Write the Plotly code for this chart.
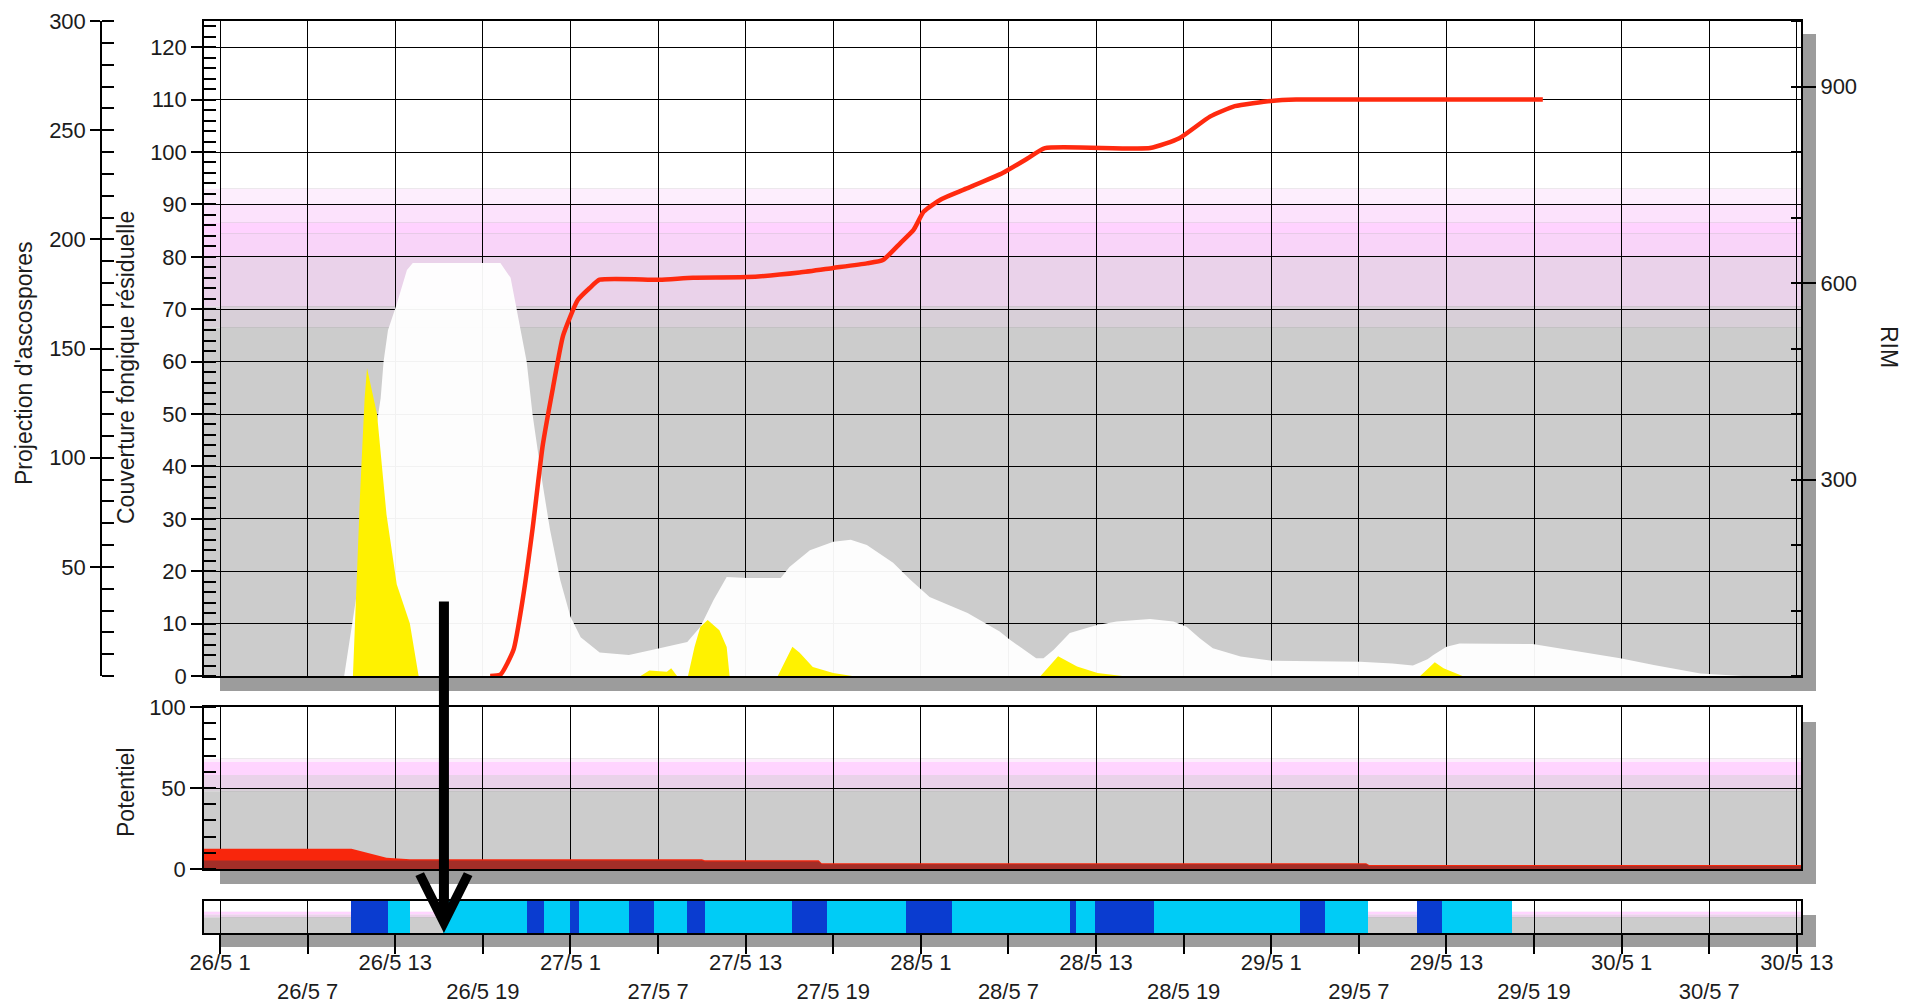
import pandas as pd
import plotly.graph_objects as go

# ---------------- DATA ----------------
TICK_TIMES = ["2021-05-26 01:00", "2021-05-26 07:00", "2021-05-26 13:00", "2021-05-26 19:00",
              "2021-05-27 01:00", "2021-05-27 07:00", "2021-05-27 13:00", "2021-05-27 19:00",
              "2021-05-28 01:00", "2021-05-28 07:00", "2021-05-28 13:00", "2021-05-28 19:00",
              "2021-05-29 01:00", "2021-05-29 07:00", "2021-05-29 13:00", "2021-05-29 19:00",
              "2021-05-30 01:00", "2021-05-30 07:00", "2021-05-30 13:00"]
TICK_LABELS = ["26/5 1", "26/5 7", "26/5 13", "26/5 19",
               "27/5 1", "27/5 7", "27/5 13", "27/5 19",
               "28/5 1", "28/5 7", "28/5 13", "28/5 19",
               "29/5 1", "29/5 7", "29/5 13", "29/5 19",
               "30/5 1", "30/5 7", "30/5 13"]
X_RANGE = ["2021-05-25 23:54", "2021-05-30 13:17"]

# Couverture fongique résiduelle (white area, left axis 0-125)
COUV_TIMES = ["2021-05-26 09:30", "2021-05-26 10:36", "2021-05-26 11:24", "2021-05-26 12:00",
              "2021-05-26 12:12", "2021-05-26 12:30", "2021-05-26 13:06", "2021-05-26 13:48",
              "2021-05-26 14:12", "2021-05-26 20:12", "2021-05-26 20:54", "2021-05-26 21:18",
              "2021-05-26 22:00", "2021-05-26 22:24", "2021-05-26 23:03", "2021-05-26 23:36",
              "2021-05-27 00:18", "2021-05-27 01:00", "2021-05-27 01:42", "2021-05-27 03:00",
              "2021-05-27 05:00", "2021-05-27 07:06", "2021-05-27 09:00", "2021-05-27 09:54",
              "2021-05-27 10:48", "2021-05-27 11:42", "2021-05-27 13:06", "2021-05-27 15:24",
              "2021-05-27 16:00", "2021-05-27 17:24", "2021-05-27 19:00", "2021-05-27 20:12",
              "2021-05-27 21:18", "2021-05-27 23:06", "2021-05-28 00:18", "2021-05-28 01:36",
              "2021-05-28 04:12", "2021-05-28 06:24", "2021-05-28 07:06", "2021-05-28 08:54",
              "2021-05-28 09:24", "2021-05-28 10:06", "2021-05-28 11:12", "2021-05-28 13:00",
              "2021-05-28 14:24", "2021-05-28 16:42", "2021-05-28 18:18", "2021-05-28 19:12",
              "2021-05-28 20:06", "2021-05-28 21:00", "2021-05-28 22:54", "2021-05-29 01:06",
              "2021-05-29 07:06", "2021-05-29 09:18", "2021-05-29 10:42", "2021-05-29 11:42",
              "2021-05-29 12:06", "2021-05-29 13:00", "2021-05-29 13:54", "2021-05-29 18:54",
              "2021-05-29 21:18", "2021-05-30 00:54", "2021-05-30 03:12", "2021-05-30 06:24",
              "2021-05-30 09:18"]
COUV_VALUES = [0, 20, 42, 53,
               60, 66, 71, 77.5,
               78.8, 78.8, 76, 70.4,
               60, 50, 37.4, 27.9,
               18.3, 11.3, 7.4, 4.5,
               4.0, 5.3, 6.5, 9.4,
               14.5, 18.9, 18.7, 18.7,
               20.8, 24, 25.6, 26,
               25, 21.6, 18.3, 15.1,
               12, 8.5, 6.9, 3.4,
               3.4, 5.0, 8.2, 9.7,
               10.4, 10.9, 10.4, 9.4,
               7.2, 5.3, 3.7, 2.9,
               2.7, 2.4, 2.0, 3.2,
               4.0, 5.6, 6.2, 6.1,
               5.0, 3.4, 2.1, 0.5,
               0]

# RIM (red line, right axis 0-1000)
RIM_TIMES = ["2021-05-26 19:30", "2021-05-26 20:12", "2021-05-26 21:06", "2021-05-26 21:45",
             "2021-05-26 22:24", "2021-05-26 23:06", "2021-05-26 23:48", "2021-05-27 00:30",
             "2021-05-27 01:30", "2021-05-27 02:18", "2021-05-27 03:00", "2021-05-27 07:06",
             "2021-05-27 09:24", "2021-05-27 13:06", "2021-05-27 16:42", "2021-05-27 19:00",
             "2021-05-27 21:18", "2021-05-27 22:24", "2021-05-27 23:36", "2021-05-28 00:30",
             "2021-05-28 01:12", "2021-05-28 02:24", "2021-05-28 04:06", "2021-05-28 06:36",
             "2021-05-28 08:18", "2021-05-28 09:30", "2021-05-28 16:42", "2021-05-28 18:42",
             "2021-05-28 20:48", "2021-05-28 22:30", "2021-05-29 01:00", "2021-05-29 02:42",
             "2021-05-29 19:36"]
RIM_VALUES = [0, 2, 40, 120,
              224, 352, 440, 520,
              574, 592, 605, 605,
              608, 609, 616, 623,
              630, 635, 661, 681,
              709, 728, 744, 768,
              790, 806, 806, 821,
              854, 870, 878, 880,
              880]

# Projection d'ascospores (yellow area, far-left axis 0-300)
ASCO_TIMES = ["2021-05-26 10:06", "2021-05-26 10:36", "2021-05-26 10:54", "2021-05-26 11:04",
              "2021-05-26 11:45", "2021-05-26 12:24", "2021-05-26 13:06", "2021-05-26 14:00",
              "2021-05-26 14:36",
              "2021-05-27 05:48", "2021-05-27 06:24", "2021-05-27 07:36", "2021-05-27 07:54",
              "2021-05-27 08:18",
              "2021-05-27 09:03", "2021-05-27 09:30", "2021-05-27 09:54", "2021-05-27 10:24",
              "2021-05-27 11:12", "2021-05-27 11:42", "2021-05-27 11:54",
              "2021-05-27 15:12", "2021-05-27 16:12", "2021-05-27 16:42", "2021-05-27 17:36",
              "2021-05-27 19:00", "2021-05-27 20:18",
              "2021-05-28 09:12", "2021-05-28 10:24", "2021-05-28 11:42", "2021-05-28 13:06",
              "2021-05-28 14:48",
              "2021-05-29 11:12", "2021-05-29 12:12", "2021-05-29 12:48", "2021-05-29 14:06"]
ASCO_VALUES = [0, 85, 127, 141,
               120, 74, 42, 24,
               0,
               0, 2.5, 2.0, 3.5,
               0,
               0, 13.4, 22.5, 25.7,
               21, 13.3, 0,
               0, 13.4, 10.6, 4.1,
               1.4, 0,
               0, 9.1, 4.3, 1.4,
               0,
               0, 6.3, 3.5, 0]

# Potentiel (lower panel 0-100)
POT_TIMES = ["2021-05-25 23:54", "2021-05-26 10:00", "2021-05-26 12:24", "2021-05-26 14:00",
             "2021-05-27 10:00", "2021-05-27 10:12", "2021-05-27 18:00", "2021-05-27 18:12",
             "2021-05-29 07:30", "2021-05-29 07:42", "2021-05-30 13:17"]
POT_TOTAL = [12.5, 12.5, 6.9, 6.0, 6.0, 5.4, 5.4, 3.6, 3.6, 2.4, 2.4]
POT_BASE = [5.3, 5.3, 5.3, 5.3, 5.3, 4.6, 4.6, 3.0, 3.0, 1.9, 1.9]

# Bottom strip periods
STRIP_START = ["2021-05-26 10:00", "2021-05-26 12:30", "2021-05-26 16:18", "2021-05-26 22:00",
               "2021-05-26 23:12", "2021-05-27 01:00", "2021-05-27 01:36", "2021-05-27 05:00",
               "2021-05-27 06:42", "2021-05-27 09:00", "2021-05-27 10:12", "2021-05-27 16:12",
               "2021-05-27 18:36", "2021-05-28 00:00", "2021-05-28 03:06", "2021-05-28 11:12",
               "2021-05-28 11:36", "2021-05-28 12:54", "2021-05-28 17:00", "2021-05-29 03:00",
               "2021-05-29 04:42", "2021-05-29 11:00", "2021-05-29 12:42"]
STRIP_END = ["2021-05-26 12:30", "2021-05-26 14:00", "2021-05-26 22:00", "2021-05-26 23:12",
             "2021-05-27 01:00", "2021-05-27 01:36", "2021-05-27 05:00", "2021-05-27 06:42",
             "2021-05-27 09:00", "2021-05-27 10:12", "2021-05-27 16:12", "2021-05-27 18:36",
             "2021-05-28 00:00", "2021-05-28 03:06", "2021-05-28 11:12", "2021-05-28 11:36",
             "2021-05-28 12:54", "2021-05-28 17:00", "2021-05-29 03:00", "2021-05-29 04:42",
             "2021-05-29 07:36", "2021-05-29 12:42", "2021-05-29 17:30"]
STRIP_LEVEL = ["fort", "moyen", "moyen", "fort", "moyen", "fort", "moyen", "fort",
               "moyen", "fort", "moyen", "fort", "moyen", "fort", "moyen", "fort",
               "moyen", "fort", "moyen", "fort", "moyen", "fort", "moyen"]

ARROW_TIME = "2021-05-26 16:20"

# ---------------- STYLE / LAYOUT ----------------
W, H = 1917, 1003
FONT = "Liberation Sans, Arial, sans-serif"
TXT = "#1c1c1c"
LEVEL_COLORS = {"fort": "#0a3cd0", "moyen": "#00ccf6"}


def px_x(p):
    return p / W


def px_y(p):
    return (H - p) / H


XD = [px_x(204), px_x(1801)]
Y_TOP = [px_y(676), px_y(21)]
Y_POT = [px_y(869), px_y(707)]
Y_STRIP = [px_y(933), px_y(901)]

fig = go.Figure()

# white residual coverage area
fig.add_trace(go.Scatter(x=COUV_TIMES, y=COUV_VALUES, xaxis="x", yaxis="y", mode="lines",
                         line=dict(width=0, color="white"), fill="tozeroy",
                         fillcolor="rgba(255,255,255,0.95)", hoverinfo="skip",
                         name="Couverture fongique résiduelle"))
# RIM red line
fig.add_trace(go.Scatter(x=RIM_TIMES, y=RIM_VALUES, xaxis="x", yaxis="y3", mode="lines",
                         line=dict(width=4.5, color="#ff2a0f", shape="spline", smoothing=0.5),
                         name="RIM"))
# Ascospores yellow area
fig.add_trace(go.Scatter(x=ASCO_TIMES, y=ASCO_VALUES, xaxis="x", yaxis="y4", mode="lines",
                         line=dict(width=0, color="#fff200"), fill="tozeroy",
                         fillcolor="#fff200", name="Projection d'ascospores"))
# Potentiel
fig.add_trace(go.Scatter(x=POT_TIMES, y=POT_TOTAL, xaxis="x2", yaxis="y2", mode="lines",
                         line=dict(width=0, color="#f8260c"), fill="tozeroy",
                         fillcolor="#f8260c", name="Potentiel"))
fig.add_trace(go.Scatter(x=POT_TIMES, y=POT_BASE, xaxis="x2", yaxis="y2", mode="lines",
                         line=dict(width=0, color="#a32e28"), fill="tozeroy",
                         fillcolor="#a32e28", name="Potentiel (base)"))
# Strip
starts = pd.to_datetime(pd.Series(STRIP_START))
ends = pd.to_datetime(pd.Series(STRIP_END))
durations = ((ends - starts).dt.total_seconds() * 1000).tolist()
fig.add_trace(go.Bar(base=STRIP_START, x=durations, y=[50] * len(STRIP_START), width=100,
                     orientation="h", xaxis="x3", yaxis="y5",
                     marker=dict(color=[LEVEL_COLORS[l] for l in STRIP_LEVEL], line=dict(width=0)),
                     name="Période"))

# --- shapes: shadows, bands
shapes = []
SHADOW = "#9c9c9c"
for (top, bot) in [(34, 691), (722, 884), (915, 947)]:
    shapes.append(dict(type="rect", xref="paper", yref="paper", x0=px_x(220), x1=px_x(1816),
                       y0=px_y(bot), y1=px_y(top), fillcolor=SHADOW, line=dict(width=0), layer="below"))

TOP_BANDS = [(93, 125, "#ffffff"), (90, 93, "#fdeefd"), (86.5, 90, "#fce2fc"), (84.5, 86.5, "#ffd2ff"),
             (80, 84.5, "#f9d4f9"), (70.5, 80, "#ead2ea"), (66.5, 70.5, "#d8cfd8"), (0, 66.5, "#cccccc")]
LOW_BANDS = [(68, 100, "#ffffff"), (66, 68, "#fdeefd"), (58, 66, "#ffd4ff"), (50, 58, "#ead2ea"),
             (48, 50, "#d8cfd8"), (0, 48, "#cccccc")]
for y0, y1, c in TOP_BANDS:
    shapes.append(dict(type="rect", xref="x domain", yref="y", x0=0, x1=1, y0=y0, y1=y1,
                       fillcolor=c, line=dict(width=0), layer="below"))
for y0, y1, c in LOW_BANDS:
    shapes.append(dict(type="rect", xref="x2 domain", yref="y2", x0=0, x1=1, y0=y0, y1=y1,
                       fillcolor=c, line=dict(width=0), layer="below"))
    shapes.append(dict(type="rect", xref="x3 domain", yref="y5", x0=0, x1=1, y0=y0, y1=y1,
                       fillcolor=c, line=dict(width=0), layer="below"))

# --- axes
ticktext = [lab if i % 2 == 0 else "<br>" + lab for i, lab in enumerate(TICK_LABELS)]
tickfont = dict(family=FONT, size=22, color=TXT)
common_x = dict(type="date", range=X_RANGE, tickmode="array", tickvals=TICK_TIMES, automargin=False,
                showgrid=True, gridcolor="black", gridwidth=1.3, showline=True, mirror=True,
                linecolor="black", linewidth=1.5, zeroline=False)

layout = dict(
    width=W, height=H, margin=dict(l=0, r=0, t=0, b=0, pad=0), autosize=False,
    paper_bgcolor="white", plot_bgcolor="white", showlegend=False,
    font=dict(family=FONT, size=22, color=TXT),
    bargap=0,
    xaxis=dict(domain=XD, anchor="y", showticklabels=False, ticks="", **common_x),
    xaxis2=dict(domain=XD, anchor="y2", matches="x", showticklabels=False, ticks="", **common_x),
    xaxis3=dict(domain=XD, anchor="y5", matches="x", ticktext=ticktext, ticks="outside",
                ticklen=19, tickwidth=1.5, tickcolor="black", tickfont=tickfont,
                ticklabelstandoff=-10, **common_x),
    yaxis=dict(domain=Y_TOP, anchor="x", range=[0, 125], tickmode="linear", tick0=0, dtick=10,
               ticks="outside", ticklen=11, tickwidth=1.5, tickcolor="black", tickfont=tickfont,
               showgrid=True, gridcolor="black", gridwidth=1.3, zeroline=False, automargin=False,
               showline=True, mirror=True, linecolor="black", linewidth=1.5,
               minor=dict(dtick=2, ticks="inside", ticklen=12, tickwidth=1.5, tickcolor="black",
                          showgrid=False)),
    yaxis3=dict(overlaying="y", anchor="x", side="right", range=[0, 1000], tickmode="array",
                tickvals=[300, 600, 900], ticks="outside", ticklen=14, tickwidth=1.5, automargin=False,
                tickcolor="black", tickfont=tickfont, showgrid=False, zeroline=False,
                minor=dict(tickmode="linear", tick0=0, dtick=100, ticks="inside", ticklen=10,
                           tickwidth=1.5, tickcolor="black", showgrid=False)),
    yaxis4=dict(overlaying="y", anchor="free", position=px_x(101), side="left", range=[0, 300],
                tickmode="array", tickvals=[50, 100, 150, 200, 250, 300], ticks="outside",
                ticklen=10, tickwidth=1.5, tickcolor="black", tickfont=tickfont, showgrid=False,
                zeroline=False, showline=True, linecolor="black", linewidth=1.5, automargin=False,
                minor=dict(tickmode="linear", tick0=0, dtick=10, ticks="inside", ticklen=12,
                           tickwidth=1.5, tickcolor="black", showgrid=False)),
    yaxis2=dict(domain=Y_POT, anchor="x2", range=[0, 100], tickmode="array", tickvals=[0, 50, 100],
                ticks="outside", ticklen=12, tickwidth=1.5, tickcolor="black", tickfont=tickfont,
                showgrid=True, gridcolor="black", gridwidth=1.3, zeroline=False, automargin=False,
                showline=True, mirror=True, linecolor="black", linewidth=1.5,
                minor=dict(tickmode="linear", tick0=0, dtick=10, ticks="inside", ticklen=12,
                           tickwidth=1.5, tickcolor="black", showgrid=False)),
    yaxis5=dict(domain=Y_STRIP, anchor="x3", range=[0, 100], showticklabels=False, ticks="",
                showgrid=False, zeroline=False, showline=True, mirror=True, linecolor="black",
                linewidth=1.5, automargin=False),
    shapes=shapes,
)
fig.update_layout(**layout)

title_font = dict(family=FONT, size=23, color=TXT)
fig.add_annotation(text="Projection d'ascospores", xref="paper", yref="paper", x=px_x(24), y=px_y(364),
                   textangle=-90, showarrow=False, font=title_font, xanchor="center", yanchor="middle")
fig.add_annotation(text="Couverture fongique résiduelle", xref="paper", yref="paper", x=px_x(126),
                   y=px_y(368), textangle=-90, showarrow=False, font=title_font,
                   xanchor="center", yanchor="middle")
fig.add_annotation(text="Potentiel", xref="paper", yref="paper", x=px_x(126), y=px_y(792),
                   textangle=-90, showarrow=False, font=title_font, xanchor="center", yanchor="middle")
fig.add_annotation(text="RIM", xref="paper", yref="paper", x=px_x(1889), y=px_y(347),
                   textangle=90, showarrow=False, font=title_font, xanchor="center", yanchor="middle")
# black arrow
fig.add_annotation(text="", x=ARROW_TIME, xref="x3", y=px_y(933), yref="paper",
                   ax=0, ay=-333, showarrow=True, arrowhead=5, arrowsize=0.95,
                   arrowwidth=10, arrowcolor="black")

fig.write_html("out.html", config={"displayModeBar": False},
               post_script="document.body.style.margin='0';document.body.style.overflow='hidden';")
